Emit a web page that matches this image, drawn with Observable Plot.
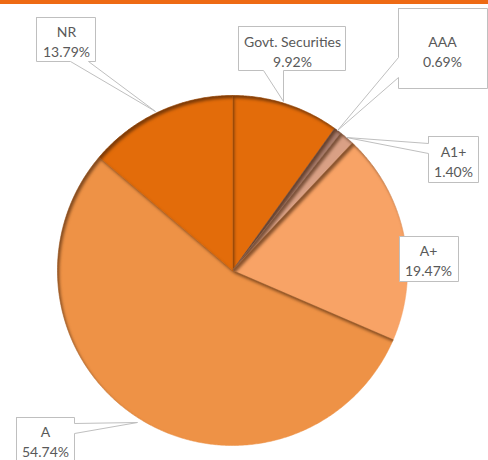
<!DOCTYPE html>
<html><head><meta charset="utf-8">
<script src="https://cdn.jsdelivr.net/npm/d3@7"></script>
<script src="https://cdn.jsdelivr.net/npm/@observablehq/plot@0.6"></script>
<style>
body{margin:0;background:#fff;}
#bar{height:4px;width:488px;background:#EE6A14;}
#chart svg{display:block;}
</style>
</head><body>
<div id="bar"></div>
<div id="chart"></div>
<script>
// ---- data ----
const categories = ["Govt. Securities", "AAA", "A1+", "A+", "A", "NR"];
const values = [9.92, 0.69, 1.40, 19.47, 54.74, 13.79];
const valueLabels = ["9.92%", "0.69%", "1.40%", "19.47%", "54.74%", "13.79%"];

// ---- styles ----
const colors = ["#E36C0A", "#A97C6C", "#D9A085", "#F8A366", "#EE9246", "#E36C0A"];

// ---- layout (reference pixel coords) ----
const W = 488, H = 456, TOP = 4;
const CX = 232, CY = 270, R = 175;
const callouts = {
  "NR": {shape: [[36,17],[95,17],[95,61],[88,61],[155,111],[70,61],[36,61]], text: [66,40]},
  "Govt. Securities": {shape: [[238,26],[345,26],[345,70],[283,70],[283,101],[263,70],[238,70]], text: [292,50]},
  "AAA": {shape: [[398,8],[487,8],[487,88],[398,88],[398,77],[337,130],[398,57]], text: [442,50]},
  "A1+": {shape: [[428,136],[478,136],[478,182],[428,182],[428,153],[346,137],[428,143]], text: [453,160]},
  "A+": {shape: [[399,236],[458,236],[458,281],[399,281]], text: [428,259]},
  "A": {shape: [[16,417],[74,417],[74,423],[137,422],[74,433],[74,475],[16,475]], text: [45,440]}
};
const px = (x) => (x - CX) / R;
const py = (y) => (CY - y) / R;

// ---- slices ----
const arcs = d3.pie().sort(null).value(d => d)(values);
const sliceMarks = arcs.map((a, i) => {
  const pts = [{x: 0, y: 0}];
  const n = Math.max(2, Math.ceil((a.endAngle - a.startAngle) / (Math.PI / 360)));
  for (let k = 0; k <= n; k++) {
    const t = a.startAngle + (a.endAngle - a.startAngle) * k / n;
    pts.push({x: Math.sin(t), y: Math.cos(t)});
  }
  pts.push({x: 0, y: 0});
  return Plot.line(pts, {
    x: "x", y: "y", fill: colors[i], stroke: colors[i], strokeWidth: 0.5,
    imageFilter: "url(#innerShadow)"
  });
});

const calloutPts = [];
const textData = [];
categories.forEach((c, i) => {
  const co = callouts[c];
  const s = co.shape.concat([co.shape[0]]);
  s.forEach(([x, y]) => calloutPts.push({id: c, x: px(x), y: py(y)}));
  textData.push({x: px(co.text[0]), y: py(co.text[1]), label: c + "\n" + valueLabels[i]});
});

const chart = Plot.plot({
  width: W, height: H,
  marginTop: 0, marginBottom: 0, marginLeft: 0, marginRight: 0,
  x: {domain: [px(0), px(W)], axis: null},
  y: {domain: [py(TOP + H), py(TOP)], axis: null},
  style: {background: "#fff"},
  marks: [
    ...sliceMarks,
    Plot.line(calloutPts, {x: "x", y: "y", z: "id", fill: "white", stroke: "#BFBFBF", strokeWidth: 1}),
    Plot.text(textData, {
      x: "x", y: "y", text: "label", fill: "#595959", fontSize: 14,
      fontFamily: "Lato", lineHeight: 1.4, lineAnchor: "middle", textAnchor: "middle"
    })
  ]
});
const ns = "http://www.w3.org/2000/svg";
const defs = document.createElementNS(ns, "defs");
defs.innerHTML = `
<filter id="innerShadow" x="-20%" y="-20%" width="140%" height="140%" color-interpolation-filters="sRGB">
  <feComponentTransfer in="SourceAlpha" result="inv"><feFuncA type="table" tableValues="1 0"/></feComponentTransfer>
  <feGaussianBlur in="inv" stdDeviation="1.8" result="blur"/>
  <feOffset in="blur" dx="2" dy="3" result="off"/>
  <feFlood flood-color="#3a1a05" flood-opacity="0.6" result="col"/>
  <feComposite in="col" in2="off" operator="in" result="sh"/>
  <feComposite in="sh" in2="SourceAlpha" operator="in" result="inner"/>
  <feMerge><feMergeNode in="SourceGraphic"/><feMergeNode in="inner"/></feMerge>
</filter>`;
chart.insertBefore(defs, chart.firstChild);
document.getElementById("chart").appendChild(chart);
</script>
</body></html>
